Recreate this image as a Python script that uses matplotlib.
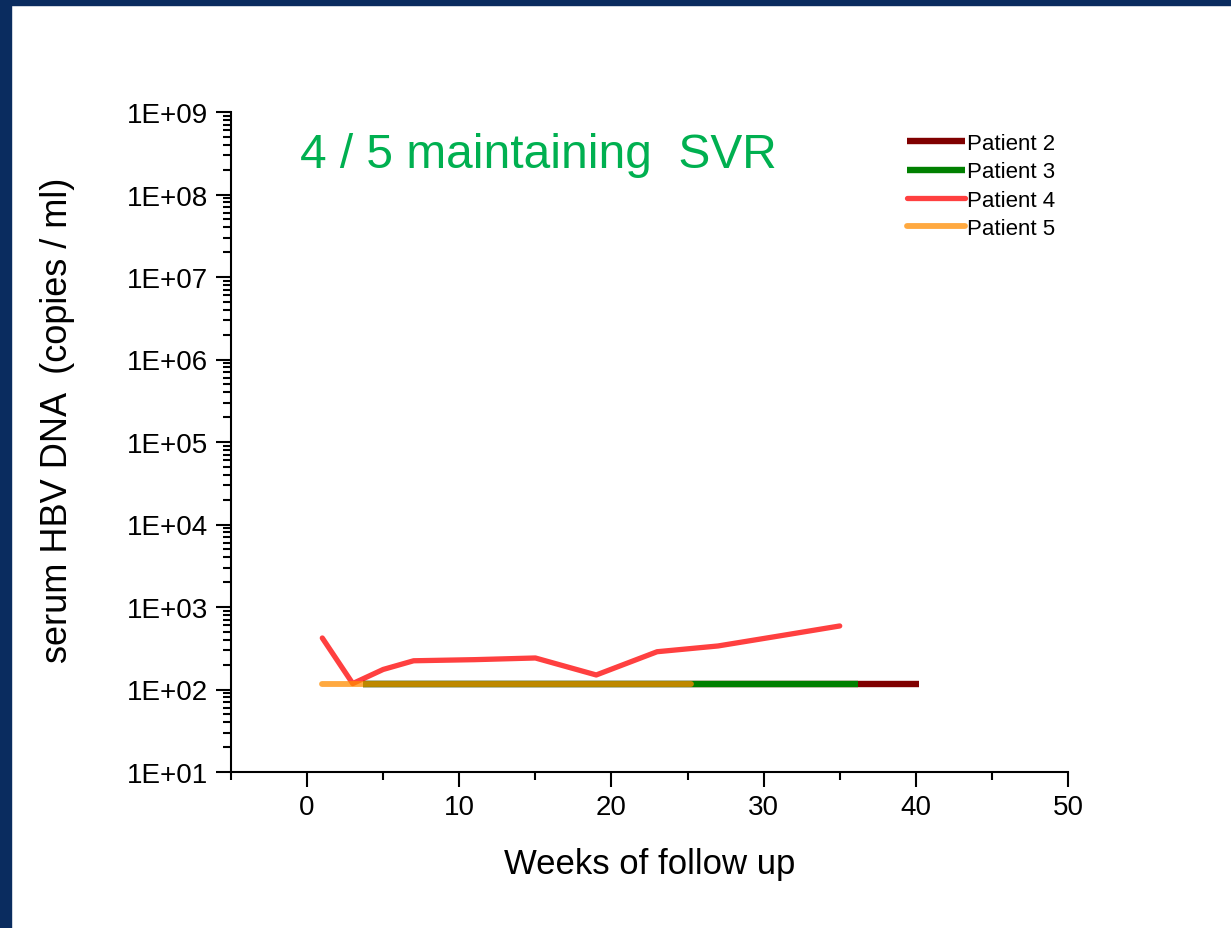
import matplotlib
matplotlib.use("Agg")
import math
import matplotlib.pyplot as plt
from matplotlib.ticker import LogLocator, FixedLocator, FuncFormatter, NullFormatter
from matplotlib.patches import Rectangle

plt.rcParams['font.family'] = ['Liberation Sans', 'DejaVu Sans']

# Data
p2_x = [3.7, 40.2]
p2_y = [115, 115]
p3_x = [3.7, 36.2]
p3_y = [115, 115]
p4_x = [1, 3, 5, 7, 11, 15, 19, 23, 27, 31, 35]
p4_y = [421, 118, 175, 223, 230, 241, 150, 287, 337, 445, 589]
p5_x = [1, 25.2]
p5_y = [115, 115]

labels = ["Patient 2", "Patient 3", "Patient 4", "Patient 5"]
title_text = "4 / 5 maintaining  SVR"
xlabel = "Weeks of follow up"
ylabel = "serum HBV DNA  (copies / ml)"
xticks = [0, 10, 20, 30, 40, 50]

fig = plt.figure(figsize=(12.31, 9.29), dpi=100)
fig.patch.set_facecolor('white')
navy = '#0a2c5f'
fig.patches.append(Rectangle((0, 0), 11/1231, 1, transform=fig.transFigure, color=navy, zorder=0))
fig.patches.append(Rectangle((0, 1 - 6/929), 1, 6/929, transform=fig.transFigure, color=navy, zorder=0))

ax = fig.add_axes([231/1231, 1 - 773/929, (1068 - 231)/1231, (773 - 113)/929])

lw = 4.6
ax.plot(p2_x, p2_y, color='#800000', lw=lw, solid_capstyle='butt', label=labels[0])
ax.plot(p3_x, p3_y, color='#008000', lw=lw, solid_capstyle='butt', label=labels[1])
ax.plot(p4_x, p4_y, color='#ff0000', alpha=0.75, lw=3.8, solid_capstyle='round', label=labels[2])
ax.plot(p5_x, p5_y, color='#ff8c00', alpha=0.75, lw=4.2, solid_capstyle='round', label=labels[3])

ax.set_yscale('log')
ax.set_ylim(10, 1e9)
ax.set_xlim(-5, 50)
ax.xaxis.set_major_locator(FixedLocator(xticks))
ax.xaxis.set_minor_locator(FixedLocator([-5, 5, 15, 25, 35, 45]))
ax.yaxis.set_major_locator(LogLocator(base=10, numticks=20))
ax.yaxis.set_minor_locator(LogLocator(base=10, subs=range(2, 10), numticks=20))
ax.yaxis.set_minor_formatter(NullFormatter())

def efmt(v, pos):
    e = int(round(math.log10(v)))
    return "1E+%02d" % e
ax.yaxis.set_major_formatter(FuncFormatter(efmt))

for s in ['top', 'right']:
    ax.spines[s].set_visible(False)
for s in ['left', 'bottom']:
    ax.spines[s].set_linewidth(1.5)

ax.tick_params(which='major', direction='out', length=10.5, width=1.5, labelsize=20, pad=6)
ax.tick_params(axis='x', which='major', pad=5)
ax.tick_params(which='minor', direction='out', length=5.5, width=1.5)

ax.set_xlabel(xlabel, fontsize=25, labelpad=20)
ax.set_ylabel(ylabel, fontsize=26, va='center')
ax.yaxis.set_label_coords((58 - 231)/837, (773 - 420)/660)

ax.text((300 - 231)/837, (773 - 155)/660, title_text, transform=ax.transAxes,
        fontsize=34.5, color='#00b050', va='center', ha='left')

leg = ax.legend(loc='upper left', bbox_to_anchor=((907 - 231)/837, (773 - 134)/660),
                frameon=False, fontsize=16, handlelength=2.6, handletextpad=0.1,
                labelspacing=0.33, borderaxespad=0, borderpad=0)

fig.savefig('out.png', dpi=100, facecolor='white')
